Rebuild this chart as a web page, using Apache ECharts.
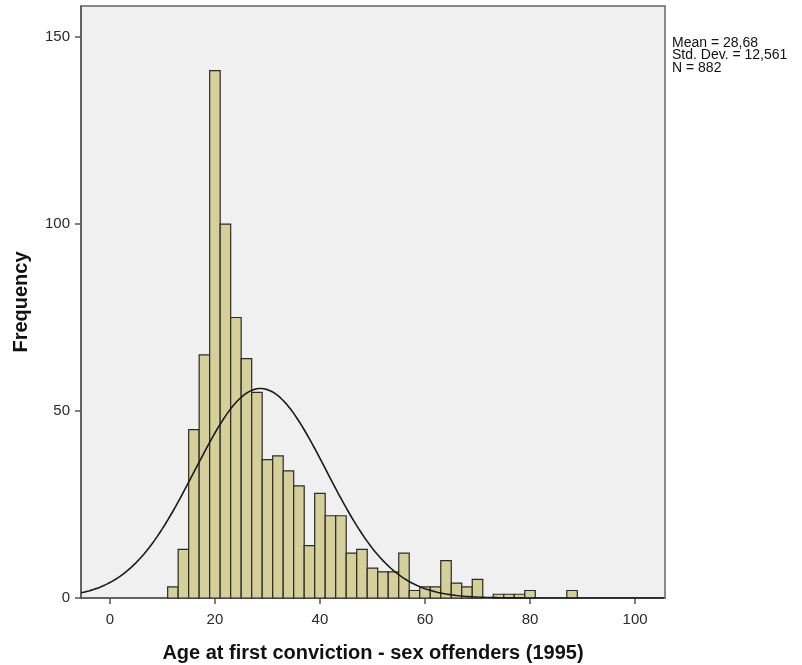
<!DOCTYPE html>
<html>
<head>
<meta charset="utf-8">
<script src="https://cdn.jsdelivr.net/npm/echarts@6/dist/echarts.min.js"></script>
<style>
html,body{margin:0;padding:0;background:#fff;}
#c{width:802px;height:665px;}
</style>
</head>
<body>
<div id="c"></div>
<script>
// Bin centers (bin width 2 years) and frequencies
var binCenters = [12,14,16,18,20,22,24,26,28,30,32,34,36,38,40,42,44,46,48,50,52,54,56,58,60,62,64,66,68,70,72,74,76,78,80,82,84,86,88];
var frequencies = [3,13,45,65,141,100,75,64,55,37,38,34,30,14,28,22,22,12,13,8,7,7,12,2,3,3,10,4,3,5,0,1,1,1,2,0,0,0,2];
var binWidth = 2;
// Summary statistics shown in the chart
var statMean = 28.68;
var statSD = 12.561;
var statN = 882;
var statLabels = ['Mean = 28,68', 'Std. Dev. = 12,561', 'N = 882'];
var xTicks = [0,20,40,60,80,100];
var yTicks = [0,50,100,150];

var xMin = -5.5, xMax = 105.7, yMax = 158.3;

var barData = binCenters.map(function(c,i){ return [c, frequencies[i]]; });

// Fitted normal curve (from displayed Mean, Std. Dev., N)
var curve = [];
for (var x = xMin; x <= xMax + 1e-9; x += 0.5) {
  var z = (x - statMean) / statSD;
  var y = statN * binWidth / (statSD * Math.sqrt(2*Math.PI)) * Math.exp(-0.5*z*z);
  curve.push([x, y]);
}

var chart = echarts.init(document.getElementById('c'), null, {renderer:'canvas'});
chart.setOption({
  animation: false,
  backgroundColor: '#ffffff',
  grid: {left: 81, right: 137, top: 6, bottom: 67, outerBoundsMode: 'none', containLabel: false, show: true, backgroundColor: '#f0f0f0', borderColor: '#666', borderWidth: 1.5},
  xAxis: {
    type: 'value', min: xMin, max: xMax,
    name: 'Age at first conviction - sex offenders (1995)',
    nameLocation: 'middle', nameGap: 45,
    nameTextStyle: {fontFamily: 'Liberation Sans, Arial', fontWeight: 'bold', fontSize: 20, color: '#111'},
    axisLine: {show: true, onZero: false, lineStyle: {color: '#555', width: 1.5}},
    axisTick: {show: true, length: 6, customValues: xTicks, lineStyle: {color: '#555', width: 1.5}},
    axisLabel: {customValues: xTicks, margin: 14, fontFamily: 'Liberation Sans, Arial', fontSize: 15, color: '#2a2a2a'},
    splitLine: {show: false}
  },
  yAxis: {
    type: 'value', min: 0, max: yMax,
    name: 'Frequency',
    nameLocation: 'middle', nameGap: 50,
    nameTextStyle: {fontFamily: 'Liberation Sans, Arial', fontWeight: 'bold', fontSize: 20, color: '#111'},
    axisLine: {show: true, onZero: false, lineStyle: {color: '#555', width: 1.5}},
    axisTick: {show: true, length: 6, customValues: yTicks, lineStyle: {color: '#555', width: 1.5}},
    axisLabel: {customValues: yTicks, margin: 11, fontFamily: 'Liberation Sans, Arial', fontSize: 15, color: '#2a2a2a'},
    splitLine: {show: false}
  },
  series: [
    {
      type: 'custom',
      data: barData,
      renderItem: function(params, api){
        var c = api.value(0), v = api.value(1);
        if (!v) return null;
        var p1 = api.coord([c - binWidth/2, v]);
        var p2 = api.coord([c + binWidth/2, 0]);
        return {
          type: 'rect',
          shape: {x: p1[0], y: p1[1], width: p2[0]-p1[0], height: p2[1]-p1[1]},
          style: {fill: '#d5d09a', stroke: '#2a2a2a', lineWidth: 1.2}
        };
      },
      z: 2
    },
    {
      type: 'line', data: curve, showSymbol: false, smooth: false,
      lineStyle: {color: '#1a1a1a', width: 1.6}, z: 3
    }
  ],
  graphic: [{
    type: 'text', left: 672, top: 36,
    style: {text: statLabels.join('\n'), font: '14px "Liberation Sans", Arial', fill: '#111', lineHeight: 12.5}
  }]
});
</script>
</body>
</html>
